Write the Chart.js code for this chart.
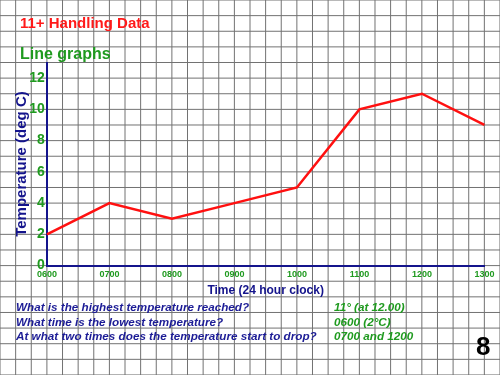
<!DOCTYPE html>
<html>
<head>
<meta charset="utf-8">
<script src="https://cdn.jsdelivr.net/npm/chart.js@4"></script>
<style>
	html, body { margin: 0; padding: 0; background: #fff; }
	#wrap { position: relative; width: 500px; height: 375px; overflow: hidden; }
	#wrap canvas { position: absolute; left: 0; top: 0; }
	.q, .a { position: absolute; font-family: Arial, 'Liberation Sans', sans-serif; font-weight: bold; font-style: italic; font-size: 11.7px; white-space: nowrap; line-height: 13px; }
	.q { color: #1c1c96; left: 16px; }
	.a { color: #1f9a1f; left: 334px; }
	#page-num { position: absolute; left: 476px; top: 331px; font: bold 26px Arial, 'Liberation Sans', sans-serif; color: #000; }
</style>
</head>
<body>
<div id="wrap">
	<canvas id="line-chart" width="500" height="375"></canvas>
	<div id="notes"></div>
	<div id="page-num">8</div>
</div>
<script>
const times = ['0600', '0700', '0800', '0900', '1000', '1100', '1200', '1300']
const temperatures = [2, 4, 3, 4, 5, 10, 11, 9]
const questions = [
	'What is the highest temperature reached?',
	'What time is the lowest temperature?',
	'At what two times does the temperature start to drop?'
]
const answers = ['11\u00b0 (at 12.00)', '0600 (2\u00b0C)', '0700 and 1200']

// squared paper behind everything, one square per degree
const graphPaper = {
	id: 'graphPaper',
	beforeDraw: (chart) => {
		const { ctx, width, height, scales } = chart
		const step = scales.y.getPixelForValue(0) - scales.y.getPixelForValue(1)
		const x0 = scales.x.getPixelForValue(0)
		const y0 = scales.y.getPixelForValue(0)
		ctx.save()
		ctx.fillStyle = '#fff'
		ctx.fillRect(0, 0, width, height)
		ctx.strokeStyle = '#727272'
		ctx.lineWidth = 1
		ctx.beginPath()
		for (let x = x0 - Math.floor(x0 / step) * step; x <= width; x += step) {
			ctx.moveTo(x, 0)
			ctx.lineTo(x, height)
		}
		for (let y = y0 - Math.floor(y0 / step) * step; y <= height; y += step) {
			ctx.moveTo(0, y)
			ctx.lineTo(width, y)
		}
		ctx.stroke()
		ctx.restore()
	}
}

const config = {
	type: 'line',
	data: {
		labels: times,
		datasets: [{
			data: temperatures,
			borderColor: '#ff1010',
			borderWidth: 2.5,
			pointRadius: 0,
			tension: 0
		}]
	},
	options: {
		responsive: false,
		animation: false,
		layout: { padding: { left: 20, right: 15.6, top: 0, bottom: 0 } },
		plugins: {
			legend: { display: false },
			tooltip: { enabled: false },
			title: {
				display: true,
				text: '11+ Handling Data',
				align: 'start',
				color: '#ff1a1a',
				font: { family: 'Arial', size: 15, weight: 'bold', lineHeight: 1 },
				padding: { top: 16.5, bottom: 8 }
			},
			subtitle: {
				display: true,
				text: 'Line graphs',
				align: 'start',
				color: '#1f9a1f',
				font: { family: 'Arial', size: 16, weight: 'bold', lineHeight: 1 },
				padding: { top: 7.5, bottom: -0.5 }
			}
		},
		scales: {
			x: {
				offset: false,
				grid: { display: false, drawTicks: false },
				border: { display: true, color: '#14148c', width: 2 },
				ticks: {
					color: '#1f9a1f',
					font: { family: 'Arial', size: 9, weight: 'bold' },
					padding: 4,
					maxRotation: 0,
					autoSkip: false
				},
				title: {
					display: true,
					text: 'Time (24 hour clock)',
					color: '#14148c',
					font: { family: 'Arial', size: 12, weight: 'bold' },
					padding: { bottom: 76.8 }
				},
				afterFit: (scale) => { scale.height = 109.4 }
			},
			y: {
				min: 0,
				max: 13,
				grid: { display: false, drawTicks: false },
				border: { display: true, color: '#14148c', width: 2 },
				ticks: {
					stepSize: 2,
					includeBounds: false,
					color: '#1f9a1f',
					font: { family: 'Arial', size: 14, weight: 'bold' },
					padding: 2
				},
				title: {
					display: true,
					text: 'Temperature (deg C)',
					color: '#14148c',
					font: { family: 'Arial', size: 15, weight: 'bold' },
					padding: { top: -7.5 }
				},
				afterFit: (scale) => { scale.width = 26.9 }
			}
		}
	},
	plugins: [graphPaper]
}

const ctx = document.querySelector('#line-chart').getContext('2d')
const lineChart = new Chart(ctx, config)

const notes = document.querySelector('#notes')
questions.forEach((q, i) => {
	const top = 300 + i * 14.7
	notes.insertAdjacentHTML('beforeend', `<div class="q" style="top:${top}px">${q}</div>`)
	notes.insertAdjacentHTML('beforeend', `<div class="a" style="top:${top}px">${answers[i]}</div>`)
})
</script>
</body>
</html>
